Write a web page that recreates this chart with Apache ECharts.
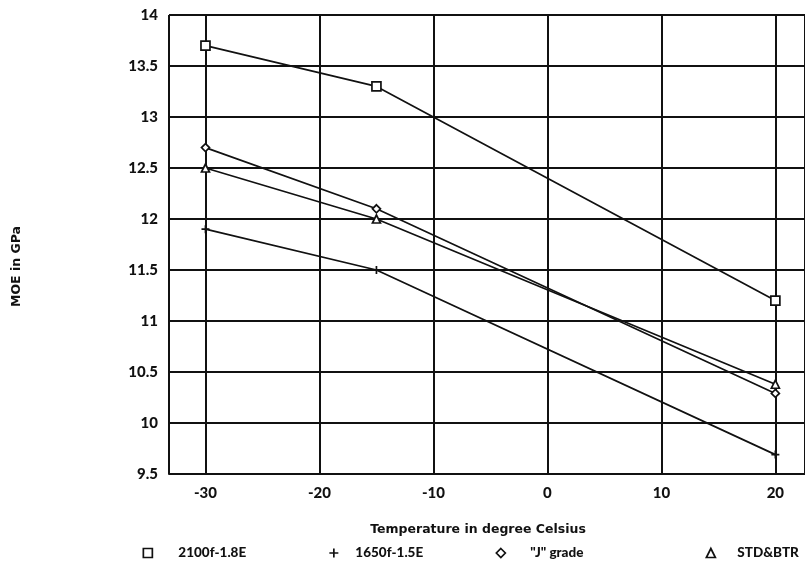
<!DOCTYPE html>
<html>
<head>
<meta charset="utf-8">
<script src="https://cdn.jsdelivr.net/npm/echarts@6/dist/echarts.min.js"></script>
<style>
  html, body { margin: 0; padding: 0; background: #fff; }
  #chart { width: 805px; height: 564px; }
</style>
</head>
<body>
<div id="chart"></div>
<script>
// Temperature (deg C) at which each grade was tested
const temperatures = [-30, -15, 20];

// Modulus of elasticity (GPa) per grade
const grade2100 = [13.7, 13.3, 11.2];
const grade1650 = [11.9, 11.5, 9.69];
const gradeJ = [12.7, 12.1, 10.29];
const gradeStd = [12.5, 12.0, 10.38];

const seriesNames = ['2100f-1.8E', '1650f-1.5E', '"J" grade', 'STD&BTR'];

const FONT = 'Lato, "DejaVu Sans", sans-serif';
const WIDE_FONT = '"DejaVu Sans", Lato, sans-serif';
const INK = '#111';

const plusPath = 'path://M0,5L10,5M5,0L5,10';
const diamondPath = 'path://M5,0L10,5L5,10L0,5Z';
const trianglePath = 'path://M5,0L10,10L0,10Z';
const squarePath = 'path://M0,0L10,0L10,10L0,10Z';

function pairs(values) {
  return temperatures.map((t, i) => [t, values[i]]);
}

function makeSeries(name, values, symbol, size) {
  return {
    name: name,
    type: 'line',
    data: pairs(values),
    symbol: symbol,
    symbolSize: size,
    showAllSymbol: true,
    lineStyle: { color: INK, width: 1.7 },
    itemStyle: { color: '#fff', borderColor: INK, borderWidth: 1.7 },
    emphasis: { disabled: true },
    z: 3
  };
}

// one legend per grade: icon position and the space before its text
const legendSpots = [
  { left: 142.5, icon: squarePath, gap: 21 },
  { left: 328.5, icon: plusPath, gap: 12 },
  { left: 495.5, icon: diamondPath, gap: 20 },
  { left: 705.5, icon: trianglePath, gap: 17 }
];

const chart = echarts.init(document.getElementById('chart'), null, { renderer: 'canvas' });

chart.setOption({
  backgroundColor: '#fff',
  animation: false,
  grid: { left: 169, right: 0, top: 15, bottom: 90, containLabel: false },
  legend: legendSpots.map((spot, i) => ({
    data: [{ name: seriesNames[i], icon: spot.icon }],
    left: spot.left,
    top: 546,
    itemWidth: 9,
    itemHeight: 9,
    itemGap: 0,
    selectedMode: false,
    padding: 0,
    itemStyle: { color: '#fff', borderColor: INK, borderWidth: 1.7 },
    formatter: name => '{s| }{t|' + name + '}',
    textStyle: {
      fontFamily: FONT, fontWeight: 900, fontSize: 13, color: INK,
      rich: {
        s: { width: spot.gap },
        t: { fontFamily: FONT, fontWeight: 900, fontSize: 13.5, color: INK }
      }
    }
  })),
  xAxis: {
    type: 'value',
    min: -33.2,
    max: 22.6,
    splitNumber: 5,
    name: 'Temperature in degree Celsius',
    nameLocation: 'middle',
    nameGap: 49,
    nameTextStyle: {
      fontFamily: WIDE_FONT, fontWeight: 'bold', fontSize: 12.5, color: INK,
      padding: [0, 18, 0, 0]
    },
    axisLine: { show: true, lineStyle: { color: INK, width: 2 } },
    axisTick: { show: false },
    axisLabel: {
      margin: 12,
      showMinLabel: false,
      showMaxLabel: false,
      fontFamily: FONT, fontWeight: 900, fontSize: 15, color: INK
    },
    splitLine: { show: true, lineStyle: { color: INK, width: 2 } }
  },
  yAxis: {
    type: 'value',
    min: 9.5,
    max: 14,
    interval: 0.5,
    name: 'MOE in GPa',
    nameLocation: 'middle',
    nameRotate: 90,
    nameGap: 146,
    nameTextStyle: {
      fontFamily: WIDE_FONT, fontWeight: 'bold', fontSize: 12.5, color: INK,
      padding: [0, 44, 0, 0]
    },
    axisLine: { show: true, lineStyle: { color: INK, width: 2 } },
    axisTick: { show: false },
    axisLabel: {
      margin: 11,
      fontFamily: FONT, fontWeight: 900, fontSize: 15, color: INK
    },
    splitLine: { show: true, lineStyle: { color: INK, width: 2 } }
  },
  series: [
    makeSeries(seriesNames[0], grade2100, squarePath, 9),
    makeSeries(seriesNames[1], grade1650, plusPath, 8),
    makeSeries(seriesNames[2], gradeJ, diamondPath, 8),
    makeSeries(seriesNames[3], gradeStd, trianglePath, 8)
  ]
});
</script>
</body>
</html>
